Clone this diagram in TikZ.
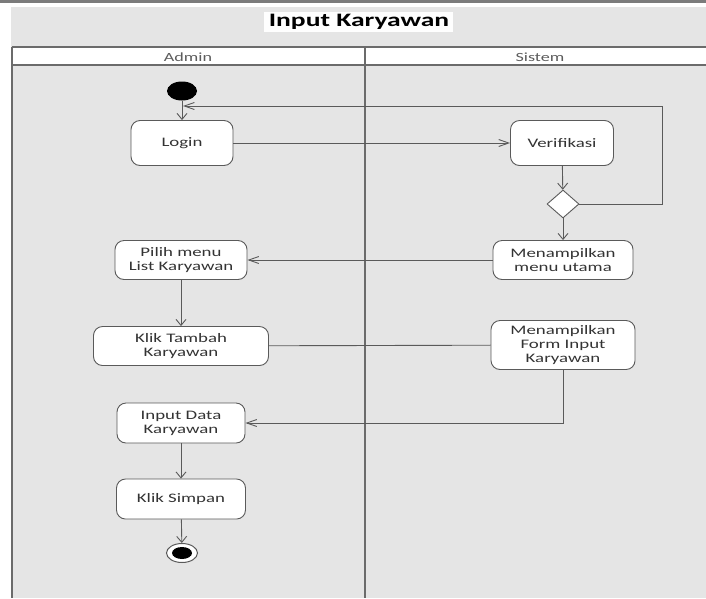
\documentclass[tikz,border=0pt]{standalone}
\usepackage{fontspec}
\setmainfont{Carlito}[FakeStretch=1.45]
\usetikzlibrary{shapes.geometric,arrows.meta}
\definecolor{bggray}{HTML}{E5E5E5}
\definecolor{linegray}{HTML}{5A5A5A}
\definecolor{txtgray}{HTML}{333333}
\tikzset{
  act/.style={draw=linegray, line width=0.9pt, fill=white, rounded corners=9pt,
    align=center, text=txtgray, inner sep=2pt,
    font=\fontsize{13}{14}\selectfont},
  conn/.style={draw=linegray, line width=0.9pt},
  varrow/.style={conn, -{Straight Barb[length=6pt,width=10pt,line width=0.9pt]}},
  harrow/.style={conn, -{Straight Barb[length=10pt,width=7pt,line width=0.9pt]}},
  lane/.style={draw=linegray!90, line width=1.3pt},
}
\begin{document}
\begin{tikzpicture}[x=1pt,y=-1pt]
\useasboundingbox (0,0) rectangle (706,598);
\fill[white] (0,0) rectangle (706,598);
% frame top line and gray background
\fill[linegray!80] (0,0) rectangle (706,2.5);
\fill[bggray] (11,7) rectangle (706,598);
% title
\fill[white!95!bggray] (264,12) rectangle (453,32);
\node[font=\bfseries\fontsize{19}{21}\selectfont, text=black] (title) at (359,22) {Input Karyawan};
% swimlane header
\fill[white] (12,47) rectangle (706,65);
\draw[lane] (12,47) -- (706,47);
\draw[lane] (12,65) -- (706,65);
\draw[lane] (12,47) -- (12,598);
\draw[lane] (365,47) -- (365,598);
\node[text=txtgray!80, font=\fontsize{12.5}{14}\selectfont] (admin) at (188,57) {Admin};
\node[text=txtgray!80, font=\fontsize{12.5}{14}\selectfont] (sistem) at (540,57) {Sistem};
% nodes
\node[ellipse, fill=black, minimum width=30pt, minimum height=19pt, inner sep=0pt] (start) at (182,91) {};
\node[act, minimum width=102pt, minimum height=45pt] (login) at (182,143) {Login};
\node[act, minimum width=103pt, minimum height=45pt] (verif) at (562,143) {Verifikasi};
\node[diamond, draw=linegray, line width=0.9pt, fill=white, minimum width=32pt, minimum height=28pt, inner sep=0pt] (dec) at (563,204) {};
\node[act, minimum width=140pt, minimum height=39pt] (menu) at (563,260) {Menampilkan\\menu utama};
\node[act, minimum width=132pt, minimum height=39pt] (pilih) at (181,260) {Pilih menu\\List Karyawan};
\node[act, minimum width=175pt, minimum height=39pt] (tambah) at (181,346) {Klik Tambah\\Karyawan};
\node[act, minimum width=144pt, minimum height=49pt] (form) at (563,345) {Menampilkan\\Form Input\\Karyawan};
\node[act, minimum width=128pt, minimum height=40pt] (input) at (181,423) {Input Data\\Karyawan};
\node[act, minimum width=129pt, minimum height=40pt] (simpan) at (181,499) {Klik Simpan};
\node[ellipse, draw=linegray, line width=1pt, fill=white, minimum width=31pt, minimum height=19pt, inner sep=0pt] (end) at (182,553) {};
\node[ellipse, fill=black, minimum width=20pt, minimum height=12pt, inner sep=0pt] (endin) at (end.center) {};
\coordinate (loopend) at (183,106);
\coordinate (loopr) at (662,106);
% connectors
\draw[varrow] (start) -- (login);
\draw[harrow] (login) -- (verif);
\draw[varrow] (verif) -- (dec);
\draw[varrow] (dec) -- (menu);
\draw[conn] (dec.east) -| (loopr);
\draw[harrow] (loopr) -- (loopend);
\draw[harrow] (menu) -- (pilih);
\draw[varrow] (pilih) -- (tambah);
\draw[conn] (tambah) -- (form);
\draw[harrow] (form.south) |- (input.east);
\draw[varrow] (input) -- (simpan);
\draw[varrow] (simpan) -- (end);
\end{tikzpicture}
\end{document}
